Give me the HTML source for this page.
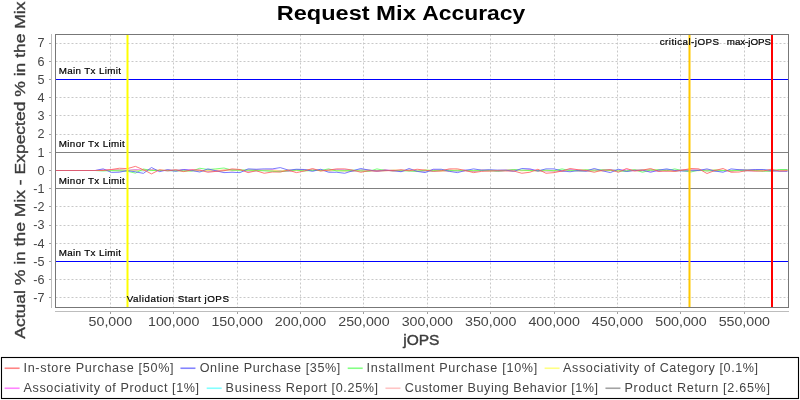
<!DOCTYPE html><html><head><meta charset="utf-8"><style>html,body{margin:0;padding:0;background:#fff;}svg{display:block;will-change:transform;}text{font-family:"Liberation Sans",sans-serif;}</style></head><body>
<svg width="800" height="400" viewBox="0 0 800 400">
<rect x="0" y="0" width="800" height="400" fill="#fff"/>
<text x="276.80" y="19.9" font-size="20.3" font-weight="bold" fill="#000" textLength="92.80" lengthAdjust="spacingAndGlyphs">Request</text>
<text x="376.10" y="19.9" font-size="20.3" font-weight="bold" fill="#000" textLength="40.00" lengthAdjust="spacingAndGlyphs">Mix</text>
<text x="422.20" y="19.9" font-size="20.3" font-weight="bold" fill="#000" textLength="103.10" lengthAdjust="spacingAndGlyphs">Accuracy</text>
<g stroke="#c8c8c8" stroke-width="1" stroke-dasharray="2,2"><line x1="55.5" y1="297.5" x2="788" y2="297.5"/><line x1="55.5" y1="279.5" x2="788" y2="279.5"/><line x1="55.5" y1="261.5" x2="788" y2="261.5"/><line x1="55.5" y1="243.5" x2="788" y2="243.5"/><line x1="55.5" y1="225.5" x2="788" y2="225.5"/><line x1="55.5" y1="206.5" x2="788" y2="206.5"/><line x1="55.5" y1="188.5" x2="788" y2="188.5"/><line x1="55.5" y1="170.5" x2="788" y2="170.5"/><line x1="55.5" y1="152.5" x2="788" y2="152.5"/><line x1="55.5" y1="134.5" x2="788" y2="134.5"/><line x1="55.5" y1="115.5" x2="788" y2="115.5"/><line x1="55.5" y1="97.5" x2="788" y2="97.5"/><line x1="55.5" y1="79.5" x2="788" y2="79.5"/><line x1="55.5" y1="61.5" x2="788" y2="61.5"/><line x1="55.5" y1="43.5" x2="788" y2="43.5"/><line x1="110.5" y1="34.5" x2="110.5" y2="307"/><line x1="173.5" y1="34.5" x2="173.5" y2="307"/><line x1="237.5" y1="34.5" x2="237.5" y2="307"/><line x1="300.5" y1="34.5" x2="300.5" y2="307"/><line x1="363.5" y1="34.5" x2="363.5" y2="307"/><line x1="427.5" y1="34.5" x2="427.5" y2="307"/><line x1="490.5" y1="34.5" x2="490.5" y2="307"/><line x1="554.5" y1="34.5" x2="554.5" y2="307"/><line x1="617.5" y1="34.5" x2="617.5" y2="307"/><line x1="680.5" y1="34.5" x2="680.5" y2="307"/><line x1="744.5" y1="34.5" x2="744.5" y2="307"/></g>
<line x1="51.5" y1="34" x2="51.5" y2="308" stroke="#bdbdbd" stroke-width="1"/>
<line x1="55" y1="311.5" x2="789" y2="311.5" stroke="#bdbdbd" stroke-width="1"/>
<g stroke="#a0a0a0" stroke-width="1"><line x1="49" y1="297.5" x2="51" y2="297.5"/><line x1="49" y1="279.5" x2="51" y2="279.5"/><line x1="49" y1="261.5" x2="51" y2="261.5"/><line x1="49" y1="243.5" x2="51" y2="243.5"/><line x1="49" y1="225.5" x2="51" y2="225.5"/><line x1="49" y1="206.5" x2="51" y2="206.5"/><line x1="49" y1="188.5" x2="51" y2="188.5"/><line x1="49" y1="170.5" x2="51" y2="170.5"/><line x1="49" y1="152.5" x2="51" y2="152.5"/><line x1="49" y1="134.5" x2="51" y2="134.5"/><line x1="49" y1="115.5" x2="51" y2="115.5"/><line x1="49" y1="97.5" x2="51" y2="97.5"/><line x1="49" y1="79.5" x2="51" y2="79.5"/><line x1="49" y1="61.5" x2="51" y2="61.5"/><line x1="49" y1="43.5" x2="51" y2="43.5"/><line x1="110.5" y1="312" x2="110.5" y2="314"/><line x1="173.5" y1="312" x2="173.5" y2="314"/><line x1="237.5" y1="312" x2="237.5" y2="314"/><line x1="300.5" y1="312" x2="300.5" y2="314"/><line x1="363.5" y1="312" x2="363.5" y2="314"/><line x1="427.5" y1="312" x2="427.5" y2="314"/><line x1="490.5" y1="312" x2="490.5" y2="314"/><line x1="554.5" y1="312" x2="554.5" y2="314"/><line x1="617.5" y1="312" x2="617.5" y2="314"/><line x1="680.5" y1="312" x2="680.5" y2="314"/><line x1="744.5" y1="312" x2="744.5" y2="314"/></g>
<g font-size="12.6" fill="#444"><text x="44.4" y="302.20" text-anchor="end">-7</text><text x="44.4" y="284.00" text-anchor="end">-6</text><text x="44.4" y="265.80" text-anchor="end">-5</text><text x="44.4" y="247.60" text-anchor="end">-4</text><text x="44.4" y="229.40" text-anchor="end">-3</text><text x="44.4" y="211.20" text-anchor="end">-2</text><text x="44.4" y="193.00" text-anchor="end">-1</text><text x="44.4" y="174.80" text-anchor="end">0</text><text x="44.4" y="156.60" text-anchor="end">1</text><text x="44.4" y="138.40" text-anchor="end">2</text><text x="44.4" y="120.20" text-anchor="end">3</text><text x="44.4" y="102.00" text-anchor="end">4</text><text x="44.4" y="83.80" text-anchor="end">5</text><text x="44.4" y="65.60" text-anchor="end">6</text><text x="44.4" y="47.40" text-anchor="end">7</text><text x="88.55" y="325.8" textLength="43.6" lengthAdjust="spacingAndGlyphs">50,000</text><text x="148.05" y="325.8" textLength="51.4" lengthAdjust="spacingAndGlyphs">100,000</text><text x="211.45" y="325.8" textLength="51.4" lengthAdjust="spacingAndGlyphs">150,000</text><text x="274.85" y="325.8" textLength="51.4" lengthAdjust="spacingAndGlyphs">200,000</text><text x="338.25" y="325.8" textLength="51.4" lengthAdjust="spacingAndGlyphs">250,000</text><text x="401.65" y="325.8" textLength="51.4" lengthAdjust="spacingAndGlyphs">300,000</text><text x="465.05" y="325.8" textLength="51.4" lengthAdjust="spacingAndGlyphs">350,000</text><text x="528.45" y="325.8" textLength="51.4" lengthAdjust="spacingAndGlyphs">400,000</text><text x="591.85" y="325.8" textLength="51.4" lengthAdjust="spacingAndGlyphs">450,000</text><text x="655.25" y="325.8" textLength="51.4" lengthAdjust="spacingAndGlyphs">500,000</text><text x="718.65" y="325.8" textLength="51.4" lengthAdjust="spacingAndGlyphs">550,000</text></g>
<line x1="55" y1="79.5" x2="788" y2="79.5" stroke="#0000ff" stroke-width="1"/>
<line x1="55" y1="261.5" x2="788" y2="261.5" stroke="#0000ff" stroke-width="1"/>
<line x1="55" y1="152.5" x2="788" y2="152.5" stroke="#808080" stroke-width="1"/>
<line x1="55" y1="188.5" x2="788" y2="188.5" stroke="#808080" stroke-width="1"/>
<polyline fill="none" stroke="#808080" stroke-width="1" stroke-opacity="0.78" stroke-linejoin="bevel" points="55.00,170.50 62.95,170.50 71.00,170.50 79.05,170.50 87.10,170.50 95.15,170.50 103.20,170.56 111.25,170.39 119.30,169.90 127.35,170.33 135.40,169.93 143.45,170.63 151.50,169.80 159.55,170.64 167.60,170.09 175.65,170.16 183.70,169.94 191.75,170.62 199.80,170.63 207.85,170.76 215.90,171.02 223.95,170.44 232.00,169.91 240.05,170.42 248.10,170.15 256.15,169.94 264.20,170.64 272.25,170.61 280.30,170.78 288.35,170.98 296.40,169.80 304.45,169.78 312.50,169.74 320.55,170.26 328.60,170.45 336.65,170.12 344.70,170.55 352.75,171.27 360.80,169.97 368.85,170.06 376.90,171.01 384.95,169.75 393.00,171.23 401.05,170.28 409.10,170.70 417.15,170.98 425.20,170.90 433.25,170.98 441.30,170.86 449.35,170.99 457.40,170.26 465.45,170.74 473.50,171.02 481.55,170.64 489.60,170.27 497.65,171.17 505.70,170.40 513.75,170.46 521.80,170.59 529.85,170.14 537.90,171.16 545.95,170.81 554.00,170.82 562.05,171.21 570.10,169.82 578.15,171.14 586.20,171.11 594.25,170.48 602.30,170.52 610.35,169.73 618.40,170.70 626.45,171.25 634.50,170.13 642.55,170.11 650.60,169.84 658.65,171.20 666.70,169.81 674.75,171.18 682.80,169.88 690.85,170.19 698.90,170.26 706.95,170.58 715.00,171.01 723.05,170.51 731.10,170.83 739.15,169.91 747.20,169.84 755.25,170.09 763.30,170.12 771.35,171.25 779.40,170.46 787.45,170.12"/>
<polyline fill="none" stroke="#ffafaf" stroke-width="1" stroke-opacity="0.78" stroke-linejoin="bevel" points="55.00,170.50 62.95,170.50 71.00,170.50 79.05,170.50 87.10,170.50 95.15,170.50 103.20,169.90 111.25,169.85 119.30,170.96 127.35,170.61 135.40,170.21 143.45,170.05 151.50,169.89 159.55,170.24 167.60,170.78 175.65,170.82 183.70,170.86 191.75,170.87 199.80,170.63 207.85,170.46 215.90,171.19 223.95,169.83 232.00,170.88 240.05,169.91 248.10,171.01 256.15,171.14 264.20,170.48 272.25,170.32 280.30,170.66 288.35,171.02 296.40,170.69 304.45,170.28 312.50,170.31 320.55,170.15 328.60,171.19 336.65,170.28 344.70,171.13 352.75,170.54 360.80,170.31 368.85,170.26 376.90,170.93 384.95,170.30 393.00,170.77 401.05,171.14 409.10,170.09 417.15,170.71 425.20,170.90 433.25,170.27 441.30,171.13 449.35,171.07 457.40,170.72 465.45,171.16 473.50,171.02 481.55,170.14 489.60,171.07 497.65,170.39 505.70,169.83 513.75,170.04 521.80,170.53 529.85,170.15 537.90,170.86 545.95,170.52 554.00,171.12 562.05,170.58 570.10,170.42 578.15,170.90 586.20,170.00 594.25,170.36 602.30,170.40 610.35,170.81 618.40,170.26 626.45,170.90 634.50,170.89 642.55,170.95 650.60,170.78 658.65,169.90 666.70,171.00 674.75,170.57 682.80,170.13 690.85,170.24 698.90,170.05 706.95,170.83 715.00,169.95 723.05,170.35 731.10,170.97 739.15,169.88 747.20,170.03 755.25,170.19 763.30,170.42 771.35,170.14 779.40,170.33 787.45,169.81"/>
<polyline fill="none" stroke="#55ffff" stroke-width="1" stroke-opacity="0.78" stroke-linejoin="bevel" points="55.00,170.50 62.95,170.50 71.00,170.50 79.05,170.50 87.10,170.50 95.15,170.50 103.20,170.65 111.25,170.51 119.30,170.42 127.35,170.95 135.40,170.86 143.45,170.82 151.50,170.55 159.55,170.43 167.60,170.79 175.65,170.88 183.70,170.42 191.75,170.67 199.80,170.70 207.85,170.94 215.90,170.65 223.95,170.67 232.00,170.06 240.05,170.87 248.10,170.82 256.15,170.88 264.20,170.23 272.25,170.42 280.30,170.52 288.35,170.78 296.40,170.10 304.45,170.16 312.50,170.10 320.55,170.15 328.60,170.85 336.65,170.10 344.70,170.02 352.75,170.03 360.80,170.26 368.85,170.78 376.90,170.85 384.95,170.52 393.00,170.26 401.05,170.99 409.10,170.20 417.15,170.48 425.20,170.91 433.25,170.79 441.30,170.40 449.35,170.15 457.40,170.98 465.45,170.01 473.50,170.43 481.55,170.29 489.60,170.13 497.65,170.90 505.70,170.52 513.75,170.80 521.80,170.33 529.85,170.56 537.90,170.56 545.95,170.51 554.00,170.48 562.05,170.26 570.10,170.12 578.15,170.67 586.20,170.66 594.25,170.95 602.30,170.16 610.35,170.32 618.40,170.02 626.45,170.99 634.50,170.04 642.55,170.91 650.60,170.57 658.65,170.43 666.70,170.08 674.75,170.34 682.80,170.53 690.85,170.20 698.90,170.50 706.95,170.02 715.00,170.93 723.05,170.83 731.10,170.34 739.15,170.35 747.20,170.26 755.25,170.67 763.30,170.16 771.35,170.55 779.40,170.00 787.45,170.50"/>
<polyline fill="none" stroke="#ff55ff" stroke-width="1" stroke-opacity="0.78" stroke-linejoin="bevel" points="55.00,170.50 62.95,170.50 71.00,170.50 79.05,170.50 87.10,170.50 95.15,170.50 103.20,170.01 111.25,169.88 119.30,169.93 127.35,170.68 135.40,169.87 143.45,170.23 151.50,170.32 159.55,170.75 167.60,170.22 175.65,170.54 183.70,169.97 191.75,169.85 199.80,170.24 207.85,170.98 215.90,170.78 223.95,170.34 232.00,169.96 240.05,170.35 248.10,171.04 256.15,170.30 264.20,170.12 272.25,169.81 280.30,170.77 288.35,171.06 296.40,170.36 304.45,170.09 312.50,170.01 320.55,170.66 328.60,169.97 336.65,169.92 344.70,170.03 352.75,170.56 360.80,170.77 368.85,170.55 376.90,171.18 384.95,170.12 393.00,170.19 401.05,171.11 409.10,170.12 417.15,170.98 425.20,170.72 433.25,170.05 441.30,170.35 449.35,169.98 457.40,170.96 465.45,169.98 473.50,171.11 481.55,170.15 489.60,170.39 497.65,170.62 505.70,170.54 513.75,169.81 521.80,170.58 529.85,169.95 537.90,170.51 545.95,170.66 554.00,170.55 562.05,171.12 570.10,169.99 578.15,169.90 586.20,170.80 594.25,170.11 602.30,170.97 610.35,170.07 618.40,170.42 626.45,169.89 634.50,170.17 642.55,170.39 650.60,171.09 658.65,170.76 666.70,170.92 674.75,170.44 682.80,169.98 690.85,169.87 698.90,170.21 706.95,170.15 715.00,170.46 723.05,170.49 731.10,171.18 739.15,170.37 747.20,170.84 755.25,171.02 763.30,170.44 771.35,171.16 779.40,170.30 787.45,170.08"/>
<polyline fill="none" stroke="#ffff55" stroke-width="1" stroke-opacity="0.78" stroke-linejoin="bevel" points="55.00,170.50 62.95,170.50 71.00,170.50 79.05,170.50 87.10,170.50 95.15,170.50 103.20,170.32 111.25,170.37 119.30,170.07 127.35,170.22 135.40,170.98 143.45,170.12 151.50,170.64 159.55,170.21 167.60,170.45 175.65,170.57 183.70,170.98 191.75,170.49 199.80,170.88 207.85,170.46 215.90,170.06 223.95,170.28 232.00,170.17 240.05,170.25 248.10,170.55 256.15,170.42 264.20,170.18 272.25,170.26 280.30,170.95 288.35,170.05 296.40,170.39 304.45,170.07 312.50,170.00 320.55,170.87 328.60,170.36 336.65,170.48 344.70,170.83 352.75,170.15 360.80,170.86 368.85,170.77 376.90,170.81 384.95,170.74 393.00,170.03 401.05,170.45 409.10,170.22 417.15,170.90 425.20,170.08 433.25,170.48 441.30,170.97 449.35,170.17 457.40,170.15 465.45,170.55 473.50,170.53 481.55,170.21 489.60,170.26 497.65,170.46 505.70,170.50 513.75,170.18 521.80,170.73 529.85,170.78 537.90,170.77 545.95,170.44 554.00,170.45 562.05,170.88 570.10,170.84 578.15,170.24 586.20,170.15 594.25,170.97 602.30,170.99 610.35,170.34 618.40,170.55 626.45,170.51 634.50,170.10 642.55,170.13 650.60,170.15 658.65,170.06 666.70,170.63 674.75,170.86 682.80,170.27 690.85,170.16 698.90,170.76 706.95,170.02 715.00,170.19 723.05,170.43 731.10,170.69 739.15,170.64 747.20,170.07 755.25,170.84 763.30,170.29 771.35,170.96 779.40,170.31 787.45,170.50"/>
<polyline fill="none" stroke="#55ff55" stroke-width="1" stroke-opacity="0.78" stroke-linejoin="bevel" points="55.00,170.50 62.95,170.50 71.00,170.50 79.05,170.50 87.10,170.50 95.15,170.50 103.20,170.88 111.25,170.65 119.30,170.88 127.35,171.25 135.40,173.13 143.45,169.00 151.50,170.50 159.55,170.50 167.60,170.50 175.65,170.65 183.70,170.88 191.75,171.10 199.80,168.25 207.85,169.50 215.90,168.88 223.95,168.00 232.00,170.12 240.05,170.12 248.10,170.12 256.15,170.50 264.20,170.75 272.25,171.38 280.30,171.75 288.35,170.75 296.40,170.12 304.45,171.00 312.50,170.50 320.55,170.50 328.60,168.88 336.65,171.00 344.70,170.75 352.75,170.50 360.80,171.00 368.85,171.38 376.90,168.88 384.95,170.50 393.00,170.50 401.05,170.75 409.10,171.00 417.15,171.38 425.20,170.12 433.25,170.50 441.30,170.12 449.35,170.50 457.40,170.75 465.45,170.50 473.50,170.75 481.55,170.50 489.60,170.75 497.65,171.00 505.70,170.50 513.75,169.50 521.80,170.12 529.85,170.50 537.90,170.50 545.95,170.12 554.00,170.75 562.05,168.88 570.10,170.75 578.15,170.50 586.20,169.75 594.25,170.12 602.30,169.75 610.35,170.50 618.40,171.00 626.45,171.00 634.50,169.75 642.55,172.25 650.60,170.12 658.65,169.75 666.70,170.75 674.75,168.88 682.80,170.75 690.85,172.00 698.90,170.12 706.95,171.00 715.00,170.12 723.05,170.50 731.10,170.75 739.15,170.50 747.20,170.75 755.25,170.50 763.30,171.38 771.35,171.00 779.40,169.50 787.45,169.50"/>
<polyline fill="none" stroke="#5555ff" stroke-width="1" stroke-opacity="0.78" stroke-linejoin="bevel" points="55.00,170.50 62.95,170.50 71.00,170.50 79.05,170.50 87.10,170.50 95.15,170.50 103.20,168.85 111.25,172.38 119.30,172.23 127.35,170.50 135.40,171.85 143.45,173.35 151.50,167.50 159.55,171.63 167.60,169.75 175.65,171.25 183.70,169.52 191.75,170.50 199.80,172.00 207.85,168.88 215.90,170.75 223.95,172.62 232.00,172.25 240.05,172.62 248.10,168.88 256.15,169.25 264.20,168.88 272.25,168.88 280.30,167.62 288.35,170.12 296.40,169.25 304.45,169.50 312.50,171.38 320.55,169.25 328.60,172.25 336.65,172.25 344.70,173.25 352.75,170.75 360.80,168.50 368.85,170.12 376.90,171.00 384.95,170.50 393.00,170.50 401.05,171.75 409.10,168.50 417.15,171.38 425.20,172.62 433.25,169.25 441.30,169.25 449.35,171.38 457.40,172.62 465.45,170.50 473.50,168.88 481.55,170.12 489.60,169.75 497.65,170.12 505.70,170.12 513.75,171.38 521.80,168.50 529.85,168.88 537.90,171.00 545.95,168.88 554.00,168.88 562.05,171.00 570.10,171.75 578.15,170.50 586.20,171.00 594.25,168.50 602.30,170.75 610.35,172.62 618.40,169.25 626.45,171.38 634.50,170.50 642.55,170.12 650.60,172.25 658.65,170.12 666.70,168.88 674.75,170.50 682.80,171.00 690.85,170.75 698.90,170.50 706.95,168.88 715.00,171.00 723.05,172.25 731.10,168.88 739.15,169.75 747.20,170.12 755.25,169.50 763.30,169.50 771.35,170.50 779.40,171.25 787.45,171.38"/>
<polyline fill="none" stroke="#ff5555" stroke-width="1" stroke-opacity="0.78" stroke-linejoin="bevel" points="55.00,170.50 62.95,170.50 71.00,170.50 79.05,170.50 87.10,170.50 95.15,170.50 103.20,170.50 111.25,169.52 119.30,168.25 127.35,168.62 135.40,166.37 143.45,169.75 151.50,173.88 159.55,169.75 167.60,170.88 175.65,169.75 183.70,171.63 191.75,169.75 199.80,170.12 207.85,172.25 215.90,171.38 223.95,170.75 232.00,168.88 240.05,169.50 248.10,172.62 256.15,170.75 264.20,173.25 272.25,172.00 280.30,172.00 288.35,170.12 296.40,172.62 304.45,171.00 312.50,168.50 320.55,171.00 328.60,170.12 336.65,168.88 344.70,168.88 352.75,170.12 360.80,172.25 368.85,170.75 376.90,171.00 384.95,170.75 393.00,170.50 401.05,169.75 409.10,170.75 417.15,169.25 425.20,170.12 433.25,171.38 441.30,170.75 449.35,168.88 457.40,168.88 465.45,170.50 473.50,172.62 481.55,171.38 489.60,171.00 497.65,170.75 505.70,171.00 513.75,171.00 521.80,173.25 529.85,172.25 537.90,169.25 545.95,173.25 554.00,172.62 562.05,171.00 570.10,168.50 578.15,169.75 586.20,170.50 594.25,172.25 602.30,170.12 610.35,169.75 618.40,172.25 626.45,168.50 634.50,171.00 642.55,170.12 650.60,168.50 658.65,171.38 666.70,171.00 674.75,171.38 682.80,170.12 690.85,168.50 698.90,168.88 706.95,173.50 715.00,170.50 723.05,168.50 731.10,172.25 739.15,172.00 747.20,170.50 755.25,171.00 763.30,171.00 771.35,169.25 779.40,171.06 787.45,170.75"/>
<line x1="127.5" y1="34" x2="127.5" y2="307" stroke="#ffff00" stroke-width="2"/>
<line x1="689.5" y1="34" x2="689.5" y2="307" stroke="#ffc800" stroke-width="2"/>
<line x1="772" y1="34" x2="772" y2="307" stroke="#ff0000" stroke-width="2"/>
<g font-size="9.8" fill="#000" stroke="#000" stroke-width="0.2"><text x="58.8" y="73.6" textLength="62.2" lengthAdjust="spacing">Main Tx Limit</text><text x="58.8" y="255.8" textLength="62.2" lengthAdjust="spacing">Main Tx Limit</text><text x="58.8" y="147.2" textLength="66" lengthAdjust="spacing">Minor Tx Limit</text><text x="58.8" y="183.8" textLength="66" lengthAdjust="spacing">Minor Tx Limit</text><text x="126.7" y="301.8" textLength="102.3" lengthAdjust="spacing">Validation Start jOPS</text><text x="659.7" y="44.8" textLength="59.3" lengthAdjust="spacing">critical-jOPS</text><text x="726.8" y="44.8" textLength="44.2" lengthAdjust="spacing">max-jOPS</text></g>
<rect x="55.5" y="34.5" width="733" height="273" fill="none" stroke="#777" stroke-width="1"/>
<text x="421.3" y="344.9" font-size="14.8" fill="#3c3c3c" stroke="#3c3c3c" stroke-width="0.4" text-anchor="middle" textLength="36.2" lengthAdjust="spacingAndGlyphs">jOPS</text>
<text transform="translate(24.6,170.1) rotate(-90)" x="0" y="0" font-size="14.8" fill="#3c3c3c" stroke="#3c3c3c" stroke-width="0.35" text-anchor="middle" textLength="337.2" lengthAdjust="spacingAndGlyphs">Actual % in the Mix - Expected % in the Mix</text>
<rect x="1.5" y="357.5" width="797" height="41" fill="none" stroke="#000" stroke-width="1.1"/>
<line x1="4.6000000000000005" y1="368.25" x2="19.6" y2="368.25" stroke="#ff5555" stroke-width="1.6" stroke-opacity="0.72"/>
<text x="23.5" y="371.8" font-size="12.6" fill="#444" textLength="150.00" lengthAdjust="spacing">In-store Purchase [50%]</text>
<line x1="180.45" y1="368.25" x2="195.45" y2="368.25" stroke="#5555ff" stroke-width="1.6" stroke-opacity="0.72"/>
<text x="199.75" y="371.8" font-size="12.6" fill="#444" textLength="140.50" lengthAdjust="spacing">Online Purchase [35%]</text>
<line x1="347.7" y1="368.25" x2="362.7" y2="368.25" stroke="#55ff55" stroke-width="1.6" stroke-opacity="0.72"/>
<text x="366.5" y="371.8" font-size="12.6" fill="#444" textLength="170.75" lengthAdjust="spacing">Installment Purchase [10%]</text>
<line x1="544.6" y1="368.25" x2="559.6" y2="368.25" stroke="#ffff55" stroke-width="1.6" stroke-opacity="0.72"/>
<text x="563.1" y="371.8" font-size="12.6" fill="#444" textLength="195.00" lengthAdjust="spacing">Associativity of Category [0.1%]</text>
<line x1="4.6000000000000005" y1="388.25" x2="19.6" y2="388.25" stroke="#ff55ff" stroke-width="1.6" stroke-opacity="0.72"/>
<text x="23.5" y="391.8" font-size="12.6" fill="#444" textLength="175.60" lengthAdjust="spacing">Associativity of Product [1%]</text>
<line x1="206.7" y1="388.25" x2="221.7" y2="388.25" stroke="#55ffff" stroke-width="1.6" stroke-opacity="0.72"/>
<text x="225.6" y="391.8" font-size="12.6" fill="#444" textLength="152.50" lengthAdjust="spacing">Business Report [0.25%]</text>
<line x1="385.45" y1="388.25" x2="400.45" y2="388.25" stroke="#ffafaf" stroke-width="1.6" stroke-opacity="0.72"/>
<text x="404.75" y="391.8" font-size="12.6" fill="#444" textLength="193.35" lengthAdjust="spacing">Customer Buying Behavior [1%]</text>
<line x1="605.45" y1="388.25" x2="620.45" y2="388.25" stroke="#808080" stroke-width="1.6" stroke-opacity="0.72"/>
<text x="624.4" y="391.8" font-size="12.6" fill="#444" textLength="145.60" lengthAdjust="spacing">Product Return [2.65%]</text>
</svg></body></html>
